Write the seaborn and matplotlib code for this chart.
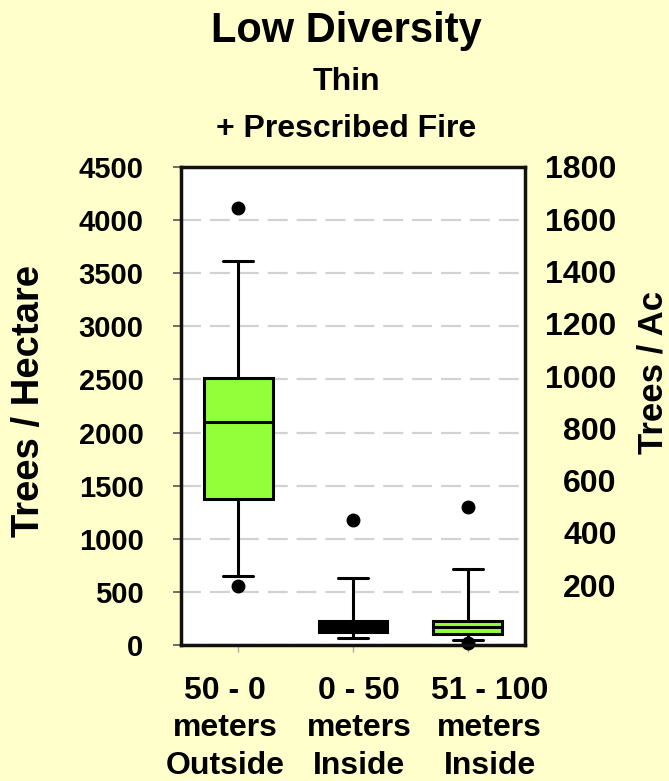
import seaborn as sns
import matplotlib.pyplot as plt
import matplotlib.transforms as mtransforms
import pandas as pd

# plot values (trees / hectare)
categories = ['50 - 0\nmeters\nOutside', '0 - 50\nmeters\nInside', '51 - 100\nmeters\nInside']
outside_50_0 = [560, 647, 1378, 1378, 1750, 2100, 2300, 2512, 2512, 3618, 4115]
inside_0_50 = [66, 66, 122, 122, 150, 175, 200, 225, 225, 628, 1181]
inside_51_100 = [15, 47, 103, 103, 140, 169, 200, 225, 225, 712, 1303]
left_ticks = [0, 500, 1000, 1500, 2000, 2500, 3000, 3500, 4000, 4500]
right_ticks = [200, 400, 600, 800, 1000, 1200, 1400, 1600, 1800]
box_colors = ['#92FF3A', 'black', '#92FF3A']

# long format table for seaborn
df = pd.DataFrame({
    'site': [categories[0]] * len(outside_50_0) + [categories[1]] * len(inside_0_50)
            + [categories[2]] * len(inside_51_100),
    'density': outside_50_0 + inside_0_50 + inside_51_100,
})

sns.set_style('white')
plt.rcParams['font.family'] = ['Liberation Sans', 'DejaVu Sans']
plt.rcParams['font.weight'] = 'bold'
plt.rcParams['text.color'] = 'black'
plt.rcParams['axes.labelcolor'] = 'black'
plt.rcParams['xtick.color'] = 'black'
plt.rcParams['ytick.color'] = 'black'

bg = '#FFFFCC'
fig = plt.figure(figsize=(6.69, 7.81), dpi=100, facecolor=bg)
ax = fig.add_axes([0.2706, 0.1741, 0.5142, 0.6121])
ax.set_facecolor('white')

sns.boxplot(data=df, x='site', y='density', hue='site', palette=box_colors,
            order=categories, hue_order=categories, whis=(10, 90), width=0.6,
            saturation=1, linewidth=2.2, linecolor='black', fliersize=9,
            legend=False, ax=ax, capwidths=0.26,
            flierprops=dict(marker='o', markerfacecolor='black', markeredgecolor='black'))
for ln in ax.lines:
    ln.set_clip_on(False)

ax.set_xlim(-0.5, 2.5)
ax.set_ylim(0, 4500)
ax.set_yticks(left_ticks)
ax.set_xlabel('')
ax.set_ylabel('')
ax.yaxis.grid(True, color='#D2D2D2', linewidth=1.6, linestyle=(0, (9, 4)))
ax.set_axisbelow(True)
ax.tick_params(axis='y', direction='out', length=6, width=1.2, color='#555555',
               labelcolor='black', labelsize=21, pad=21, left=True)
ax.tick_params(axis='x', direction='out', length=5, width=1.0, color='#AAAAAA',
               labelcolor='black', labelsize=23, pad=17, bottom=True)
# category labels sit a little wider apart than the boxes
label_shift = [-13, 6, 22]
for lab, dx in zip(ax.get_xticklabels(), label_shift):
    lab.set_fontweight('bold')
    lab.set_linespacing(1.33)
    lab.set_transform(lab.get_transform() + mtransforms.ScaledTranslation(dx / 100, 0, fig.dpi_scale_trans))
for lab in ax.get_yticklabels():
    lab.set_fontweight('bold')
for sp in ax.spines.values():
    sp.set_linewidth(2.5)
    sp.set_color('#111111')

# right axis in trees / acre
ax2 = ax.twinx()
ax2.set_ylim(-29, 1792)
ax2.set_yticks(right_ticks)
ax2.tick_params(axis='y', length=0, labelsize=23, pad=66, labelcolor='black')
for lab in ax2.get_yticklabels():
    lab.set_ha('right')
    lab.set_fontweight('bold')
for sp in ax2.spines.values():
    sp.set_visible(False)

fig.text(29 / 669, 1 - 401 / 781, 'Trees / Hectare', rotation=90, ha='center', va='center',
         fontsize=27.5, fontweight='bold')
fig.text(653 / 669, 1 - 372 / 781, 'Trees / Ac', rotation=90, ha='center', va='center',
         fontsize=25, fontweight='bold')

# titles
fig.text(0.518, 1 - 42 / 781, 'Low Diversity', ha='center', va='baseline', fontsize=30, fontweight='bold')
fig.text(0.518, 1 - 90 / 781, 'Thin', ha='center', va='baseline', fontsize=23, fontweight='bold')
fig.text(0.518, 1 - 137 / 781, '+ Prescribed Fire', ha='center', va='baseline', fontsize=23,
         fontweight='bold')

plt.savefig('out.png', dpi=100, facecolor=bg)
